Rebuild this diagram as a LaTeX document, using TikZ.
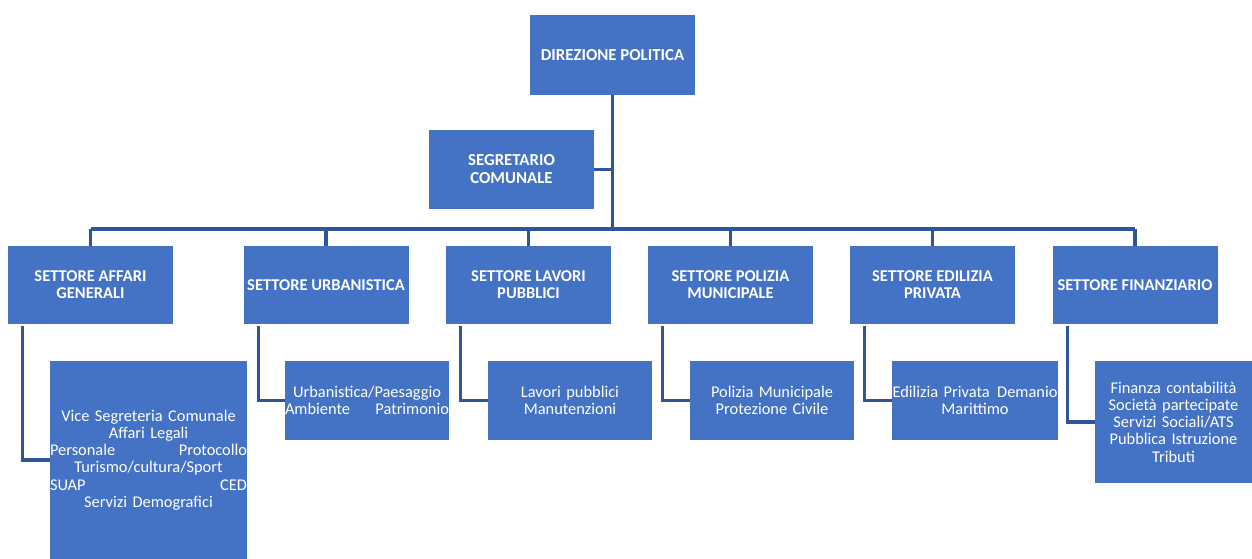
\documentclass[tikz,border=0pt]{standalone}
\usepackage{fontspec}
\setmainfont{Carlito}
\definecolor{boxblue}{RGB}{68,114,196}
\definecolor{linkblue}{RGB}{47,85,151}
\begin{document}
\begin{tikzpicture}[x=1pt,y=-1pt,
            every node/.style = {rectangle, fill=boxblue, text=white, inner sep=0pt, align=center},
            head/.style = {minimum width=165pt, minimum height=80pt, font=\fontsize{16.8}{18}\selectfont\bfseries},
            sector/.style = {minimum width=165pt, minimum height=78pt, font=\fontsize{16.5}{17}\selectfont\bfseries},
            office/.style = {minimum width=164pt, minimum height=79pt, text width=164pt, font=\fontsize{16.4}{17.2}\selectfont},
            link/.style = {draw=linkblue, line width=3.2pt}]
            \fill[white] (0,0) rectangle (1252,559);
            \useasboundingbox (0,0) rectangle (1252,559);
            % vertici
            \node[head] (dir) at (612.5,55) {DIREZIONE POLITICA};
            \node[head, minimum height=79pt] (seg) at (511.5,169.5) {SEGRETARIO\\COMUNALE};
            % settori
            \node[sector] (aff) at (90.5,285) {SETTORE AFFARI\\GENERALI};
            \node[sector] (urb) at (326,285) {SETTORE URBANISTICA};
            \node[sector] (lav) at (528.5,285) {SETTORE LAVORI\\PUBBLICI};
            \node[sector] (pol) at (730.5,285) {SETTORE POLIZIA\\MUNICIPALE};
            \node[sector] (edi) at (932.5,285) {SETTORE EDILIZIA\\PRIVATA};
            \node[sector] (fin) at (1135,285) {SETTORE FINANZIARIO};
            % uffici
            \node[office, minimum width=197pt, text width=197pt, minimum height=198pt] (affsub) at (148.5,460)
                {Vice Segreteria Comunale\\Affari Legali\\Personale\hfill Protocollo\\Turismo/cultura/Sport\\SUAP\hfill CED\\Servizi Demografici};
            \node[office] (urbsub) at (367,400.5) {Urbanistica/Paesaggio\\Ambiente\hfill Patrimonio};
            \node[office] (lavsub) at (570,400.5) {Lavori pubblici\\Manutenzioni};
            \node[office] (polsub) at (772,400.5) {Polizia Municipale\\Protezione Civile};
            \node[office, minimum width=166pt, text width=166pt] (edisub) at (975,400.5) {\mbox{Edilizia Privata\hspace{2pt} Demanio}\\Marittimo};
            \node[office, minimum width=157pt, text width=157pt, minimum height=122pt] (finsub) at (1173.5,422)
                {Finanza contabilità\\Società partecipate\\Servizi Sociali/ATS\\Pubblica Istruzione\\Tributi};
            % collegamenti
            \coordinate (bar) at (612,229);
            \draw[link] (dir.south) -- (dir.south |- bar);
            \draw[link] (seg.east) -- (seg.east -| dir.south);
            \draw[link] (aff.north |- bar) -- (fin.north |- bar);
            \foreach \s in {aff,urb,lav,pol,edi,fin} {
                \draw[link] (\s.north |- bar) -- (\s.north);
                \draw[link] ([xshift=15pt,yshift=-2pt]\s.south west) |- (\s sub.west);
            }
        \end{tikzpicture}
\end{document}
